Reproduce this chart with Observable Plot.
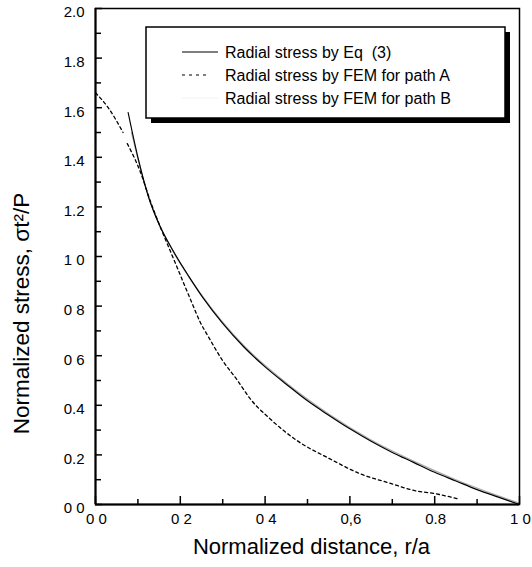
<!DOCTYPE html>
<html>
<head>
<meta charset="utf-8">
<script src="https://cdn.jsdelivr.net/npm/d3@7"></script>
<script src="https://cdn.jsdelivr.net/npm/@observablehq/plot@0.6"></script>
<style>
  html, body { margin: 0; padding: 0; background: #fff; }
  #chart { width: 532px; height: 567px; }
</style>
</head>
<body>
<div id="chart"></div>
<script>
// ---- data ----
const eqX = [0.077, 0.10, 0.125, 0.15, 0.184, 0.22, 0.255, 0.30, 0.35, 0.40, 0.45, 0.50, 0.55, 0.60, 0.65, 0.70, 0.75, 0.80, 0.85, 0.90, 0.95, 1.00];
const eqY = [1.58, 1.40, 1.24, 1.13, 1.02, 0.92, 0.83, 0.73, 0.635, 0.555, 0.485, 0.418, 0.36, 0.305, 0.255, 0.21, 0.17, 0.13, 0.095, 0.06, 0.03, 0.00];

const femAX1 = [0.0, 0.03, 0.065];
const femAY1 = [1.66, 1.60, 1.50];
const femAX2 = [0.075, 0.106, 0.13, 0.155, 0.176, 0.20, 0.224, 0.247, 0.265, 0.30, 0.335, 0.365, 0.412, 0.475, 0.553, 0.624, 0.694, 0.753, 0.80, 0.855];
const femAY2 = [1.455, 1.34, 1.22, 1.11, 1.024, 0.925, 0.827, 0.735, 0.68, 0.58, 0.50, 0.426, 0.345, 0.258, 0.184, 0.124, 0.086, 0.056, 0.044, 0.023];

const femBX = [0.085, 0.11, 0.14, 0.18, 0.25, 0.35, 0.45, 0.55, 0.65, 0.75, 0.85, 0.95, 1.0];
const femBY = [1.50, 1.33, 1.17, 1.03, 0.845, 0.64, 0.49, 0.365, 0.26, 0.175, 0.10, 0.035, 0.005];

const xTicks = [0, 0.2, 0.4, 0.6, 0.8, 1.0];
const xTickLabels = ["0 0", "0 2", "0 4", "0,6", "0.8", "1 0"];
const xMinor = [0.1, 0.3, 0.5, 0.7, 0.9];
const yTicks = [0, 0.2, 0.4, 0.6, 0.8, 1.0, 1.2, 1.4, 1.6, 1.8, 2.0];
const yTickLabels = ["0 0", "0.2", "0.4", "0 6", "0 8", "1 0", "1.2", "1.4", "1.6", "1.8", "2.0"];
const yMinor = [0.1, 0.3, 0.5, 0.7, 0.9, 1.1, 1.3, 1.5, 1.7, 1.9];

const xLabel = "Normalized distance, r/a";
const yLabel = "Normalized stress, σt²/P";
const legendLabels = ["Radial stress by Eq  (3)", "Radial stress by FEM for path A", "Radial stress by FEM for path B"];

// ---- tables built from the arrays ----
const eq = eqX.map((x, i) => ({x, y: eqY[i]}));
const femA = [
  ...femAX1.map((x, i) => ({x, y: femAY1[i], seg: 1})),
  ...femAX2.map((x, i) => ({x, y: femAY2[i], seg: 2}))
];
const femB = femBX.map((x, i) => ({x, y: femBY[i]}));
const xT = xTicks.map((v, i) => ({v, t: xTickLabels[i]}));
const yT = yTicks.map((v, i) => ({v, t: yTickLabels[i]}));

const W = 532, H = 567, mL = 95, mR = 13, mT = 8, mB = 63;
const fw = W - mL - mR, fh = H - mT - mB;
const font = "'Liberation Sans', Arial, Helvetica, sans-serif";

const plot = Plot.plot({
  width: W, height: H,
  marginLeft: mL, marginRight: mR, marginTop: mT, marginBottom: mB,
  style: {fontFamily: font, background: "white", color: "black"},
  x: {domain: [0, 1], axis: null},
  y: {domain: [0, 2], axis: null},
  marks: [
    // series
    Plot.line(femB, {x: "x", y: "y", stroke: "#a8a8a8", strokeWidth: 1.2, curve: "monotone-x"}),
    Plot.line(eq, {x: "x", y: "y", stroke: "black", strokeWidth: 1.2, curve: "monotone-x"}),
    Plot.line(femA, {x: "x", y: "y", z: "seg", stroke: "black", strokeWidth: 1.3, strokeDasharray: "3,3", curve: "monotone-x"}),
    // frame
    Plot.frame({stroke: "black", strokeWidth: 1.5}),
    Plot.ruleX([0], {stroke: "black", strokeWidth: 2}),
    Plot.ruleY([0], {stroke: "black", strokeWidth: 2}),
    // inward ticks
    Plot.tickX(xTicks, {x: d => d, insetTop: fh - 8, stroke: "black", strokeWidth: 1.5}),
    Plot.tickX(xMinor, {x: d => d, insetTop: fh - 5, stroke: "black", strokeWidth: 1.5}),
    Plot.tickY(yTicks, {y: d => d, insetRight: fw - 7, stroke: "black", strokeWidth: 1.5}),
    Plot.tickY(yMinor, {y: d => d, insetRight: fw - 6, stroke: "black", strokeWidth: 1.5}),
    // tick labels
    Plot.text(xT, {x: "v", text: "t", frameAnchor: "bottom", dy: 19, dx: 1, fontSize: 15, fill: "black"}),
    Plot.text(yT, {y: "v", text: "t", frameAnchor: "left", textAnchor: "end", dx: -11, dy: 4, fontSize: 15, fill: "black"}),
    // axis labels
    Plot.text([xLabel], {frameAnchor: "bottom", dx: 4, dy: 49, fontSize: 22, fill: "black"}),
    Plot.text([yLabel], {frameAnchor: "left", textAnchor: "middle", rotate: -90, dx: -74, dy: 57, fontSize: 22.5, fill: "black"})
  ]
});

// ---- legend box drawn on top of the plot ----
const svg = d3.select(plot);
const lg = svg.append("g").attr("font-family", font).attr("text-anchor", "start");
const bx = 146, by = 27, bw = 359, bh = 91;
lg.append("rect").attr("x", bx + 5).attr("y", by + 5).attr("width", bw).attr("height", bh).attr("fill", "black");
lg.append("rect").attr("x", bx).attr("y", by).attr("width", bw).attr("height", bh)
  .attr("fill", "white").attr("stroke", "black").attr("stroke-width", 1.5);
const rows = [52, 75, 98];
const samples = [
  {x2: 218, dash: null, stroke: "black"},
  {x2: 208, dash: "3,4", stroke: "black"},
  {x2: 218, dash: null, stroke: "#f2f2f2"}
];
legendLabels.forEach((lab, i) => {
  lg.append("line").attr("x1", 182).attr("x2", samples[i].x2)
    .attr("y1", rows[i]).attr("y2", rows[i])
    .attr("stroke", samples[i].stroke).attr("stroke-width", 1.2)
    .attr("stroke-dasharray", samples[i].dash);
  lg.append("text").attr("x", 225).attr("y", rows[i] + 6)
    .attr("font-size", 16).attr("fill", "black").attr("text-anchor", "start").text(lab);
});

document.getElementById("chart").appendChild(plot);
</script>
</body>
</html>
